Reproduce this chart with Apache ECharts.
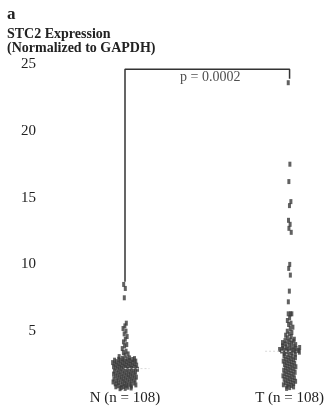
<!DOCTYPE html>
<html><head><meta charset="utf-8">
<script src="https://cdn.jsdelivr.net/npm/echarts@6/dist/echarts.min.js"></script>
<style>html,body{margin:0;padding:0;background:#fff}#c{width:327px;height:408px}</style>
</head><body><div id="c"></div>
<script>
// ---- data ----
const categories = ['N (n = 108)', 'T (n = 108)'];
const yTicks = [5, 10, 15, 20, 25];
const nValues = [
  8.5, 8.2, 7.5, 5.6, 5.4, 5.2, 5.0, 4.8, 4.6, 4.4, 4.2, 4.0, 3.9, 3.7, 3.5, 3.4, 3.3, 3.2, 3.1,
  3.00, 2.97, 2.95, 2.93, 2.90, 2.88, 2.86, 2.83, 2.81, 2.79, 2.76, 2.74, 2.72, 2.69, 2.67, 2.65, 2.62, 2.60,
  2.58, 2.55, 2.53, 2.51, 2.48, 2.46, 2.44, 2.41, 2.39, 2.37, 2.34, 2.32, 2.30, 2.28, 2.26, 2.24, 2.22,
  2.18, 2.15, 2.13, 2.10, 2.07, 2.04, 2.01, 1.98, 1.96, 1.93, 1.90, 1.87, 1.84, 1.82, 1.79, 1.76, 1.73, 1.70,
  1.68, 1.65, 1.62, 1.59, 1.56, 1.54, 1.51, 1.48, 1.45, 1.42, 1.40, 1.37, 1.34, 1.31, 1.28, 1.26, 1.23, 1.20,
  1.17, 1.14, 1.12, 1.09, 1.06, 1.03, 1.00, 0.98, 0.95, 0.92, 0.89, 0.86, 0.84, 0.81, 0.78, 0.75, 0.72, 0.70
];
const tValues = [
  23.6, 17.5, 16.2, 14.7, 14.4, 13.3, 13.0, 12.7, 12.4, 10.0, 9.7, 9.2, 8.0, 7.2, 6.3, 6.3, 6.3, 6.0, 5.8, 5.6,
  5.5, 5.3, 5.2, 5.0, 4.9, 4.8, 4.7, 4.6, 4.5, 4.4, 4.35, 4.3, 4.25, 4.2, 4.15, 4.1, 4.05, 4.0, 3.95, 3.9,
  3.86, 3.82, 3.78, 3.75, 3.72, 3.69, 3.66, 3.63, 3.60, 3.58, 3.56, 3.54, 3.52, 3.51,
  3.48, 3.43, 3.38, 3.33, 3.28, 3.22, 3.17, 3.12, 3.07, 3.02, 2.96, 2.91, 2.86, 2.81, 2.76, 2.70, 2.65, 2.60,
  2.55, 2.50, 2.44, 2.39, 2.34, 2.29, 2.24, 2.18, 2.13, 2.08, 2.03, 1.98, 1.92, 1.87, 1.82, 1.77, 1.72, 1.66,
  1.61, 1.56, 1.51, 1.46, 1.40, 1.35, 1.30, 1.25, 1.20, 1.14, 1.09, 1.04, 0.99, 0.94, 0.88, 0.83, 0.78, 0.72
];
const medians = [2.2, 3.5];
const bracket = { top: 24.6, leftBottom: 8.7, rightBottom: 23.9 };
const pText = 'p = 0.0002';

// ---- layout ----
const W = 327, H = 408;
const grid = { left: 125, right: 34, top: 64, bottom: 10 };
const gridW = W - grid.left - grid.right;

// density-scaled deterministic jitter (layout only; values are untouched)
function jitter(values, idx) {
  return values.map((v, i) => {
    const dens = values.filter(u => Math.abs(u - v) <= 0.3).length;
    const half = Math.min(13, 0.8 + dens * 0.55);
    const f = (i * 0.6180339887) % 1;
    const dx = (f - 0.5) * 2 * half;
    return [idx + dx / gridW, v];
  });
}

const serif = '"Liberation Serif", "DejaVu Serif", serif';
const chart = echarts.init(document.getElementById('c'), null, { renderer: 'canvas' });
const medHalf = 25 / gridW;

chart.setOption({
  animation: false,
  backgroundColor: '#fff',
  title: [
    { text: 'a', left: 2, top: 1, textStyle: { fontFamily: serif, fontWeight: 'bold', fontSize: 17, color: '#222' } },
    { text: 'STC2 Expression\n(Normalized to GAPDH)', left: 2, top: 22,
      textStyle: { fontFamily: serif, fontWeight: 'bold', fontSize: 14, lineHeight: 14, color: '#222' } }
  ],
  grid: grid,
  xAxis: {
    type: 'value', min: 0, max: 1, interval: 1,
    axisLine: { show: false }, axisTick: { show: false }, splitLine: { show: false },
    axisLabel: { margin: -7, fontFamily: serif, fontSize: 15, color: '#222',
      formatter: v => categories[Math.round(v)] || '' }
  },
  yAxis: {
    type: 'value', min: 0, max: 25, interval: 5,
    axisLine: { show: false }, axisTick: { show: false }, splitLine: { show: false },
    axisLabel: { margin: 89, fontFamily: serif, fontSize: 15, color: '#222',
      formatter: v => (yTicks.indexOf(v) >= 0 ? String(v) : '') }
  },
  series: [
    { type: 'line', clip: false, data: [[0 - medHalf, medians[0]], [0 + medHalf, medians[0]]], symbol: 'none',
      lineStyle: { color: '#d8d8d8', width: 1, type: [2, 2] }, silent: true },
    { type: 'line', clip: false, data: [[1 - medHalf, medians[1]], [1 + medHalf, medians[1]]], symbol: 'none',
      lineStyle: { color: '#d8d8d8', width: 1, type: [2, 2] }, silent: true },
    { type: 'line', clip: false, symbol: 'none',
      data: [[0, bracket.leftBottom], [0, bracket.top], [1, bracket.top], [1, bracket.rightBottom]],
      lineStyle: { color: '#333', width: 1.5 } },
    { type: 'scatter', clip: false, data: [[0.5, bracket.top]], symbolSize: 0,
      label: { show: true, position: 'bottom', distance: 1, offset: [3, 0], formatter: pText,
        fontFamily: serif, fontSize: 14, color: '#222' } },
    { type: 'scatter', clip: false, data: jitter(nValues, 0), symbol: 'rect', symbolSize: [3, 5],
      itemStyle: { color: '#3a3a3a' } },
    { type: 'scatter', clip: false, data: jitter(tValues, 1), symbol: 'rect', symbolSize: [3, 5],
      itemStyle: { color: '#3a3a3a' } }
  ]
});
</script></body></html>
